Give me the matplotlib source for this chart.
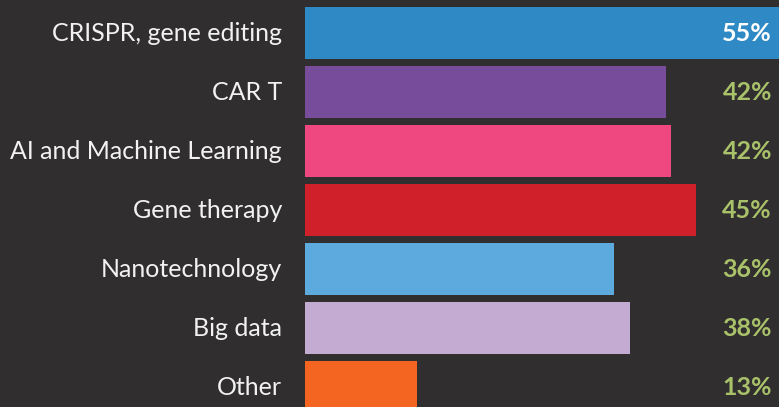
import matplotlib
matplotlib.use("Agg")
import matplotlib.pyplot as plt
from matplotlib.transforms import blended_transform_factory, offset_copy

categories = ["CRISPR, gene editing", "CAR T", "AI and Machine Learning", "Gene therapy",
              "Nanotechnology", "Big data", "Other"]
values = [55.1, 42.0, 42.6, 45.5, 35.9, 37.8, 13.0]
value_labels = ["55%", "42%", "42%", "45%", "36%", "38%", "13%"]
colors = ["#2f89c5", "#764c9b", "#ef4780", "#d0202a", "#5daadf", "#c3abd1", "#f46522"]
label_colors = ["#ffffff"] + ["#a9c26a"] * 6

BG = "#302e2f"
W, H = 779, 407
fig = plt.figure(figsize=(W / 100, H / 100), dpi=100, facecolor=BG)
ax = fig.add_axes([305 / W, 0, 1 - 305 / W, 1])
ax.set_facecolor(BG)

pitch = 59.0
ypos = list(range(len(categories)))
ax.barh(ypos, values, height=52 / pitch, color=colors, align="center")
ax.set_xlim(0, (W - 305) / 8.6)
ax.set_ylim((H - 33) / pitch, -33 / pitch)
ax.axis("off")

trans = blended_transform_factory(fig.transFigure, ax.transData)
trans = offset_copy(trans, fig=fig, x=0, y=1.5, units="dots")
for i, (cat, lab, lc) in enumerate(zip(categories, value_labels, label_colors)):
    ax.text(282 / W, i, cat, transform=trans, ha="right", va="center_baseline",
            color="#f2f2f2", fontsize=18, family="Lato")
    ax.text(772 / W, i, lab, transform=trans, ha="right", va="center_baseline",
            color=lc, fontsize=18, family="Lato", fontweight="bold")

fig.savefig("out.png", dpi=100, facecolor=BG)
